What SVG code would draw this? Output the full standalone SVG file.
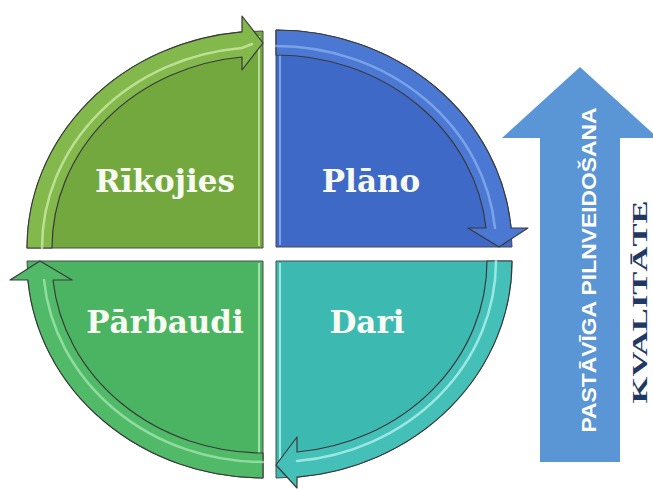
<svg xmlns="http://www.w3.org/2000/svg" width="653" height="489" viewBox="0 0 653 489">
  <style>
    .pie { stroke: #4a4a4a; stroke-width: 1; }
    .band { stroke: #3a3a3a; stroke-width: 1.2; stroke-linejoin: round; }
    .hl { fill: none; stroke-width: 2.5; stroke-linecap: round; opacity: 0.75; }
    .edge { fill: none; stroke-width: 2; opacity: 0.8; }
    .lbl { font-family: "DejaVu Serif", "Liberation Serif", serif; font-weight: bold; font-size: 31px; fill: #f8fbf2; text-anchor: middle; }
    .ark { font-family: "Liberation Sans", Arial, sans-serif; font-weight: bold; font-size: 21px; fill: #ffffff; text-anchor: middle; }
    .kv { font-family: "Liberation Serif", "DejaVu Serif", serif; font-weight: bold; font-size: 22px; fill: #1f3864; text-anchor: middle; }
  </style>
  <rect width="653" height="489" fill="#ffffff"/>

  <g id="rikojies">
    <path class="pie" d="M263,248 L27,248 A236,217 0 0 1 263,31 Z" fill="#72a83e"/>
    <line class="edge" x1="259" y1="36" x2="259" y2="246" stroke="#c9e6a4"/>
    <text class="lbl" x="165" y="192">Rīkojies</text>
  </g>

  <g id="plano">
    <path class="pie" d="M276,247 L276,30 A236,217 0 0 1 512,247 Z" fill="#3f69c7"/>
    <line class="edge" x1="280" y1="34" x2="280" y2="245" stroke="#8fb2ee"/>
    <text class="lbl" x="371" y="192">Plāno</text>
  </g>

  <g id="dari">
    <path class="pie" d="M276,261 L512,261 A236,217 0 0 1 276,478 Z" fill="#3cbab2"/>
    <line class="edge" x1="280" y1="263" x2="280" y2="468" stroke="#b4f4ef"/>
    <text class="lbl" x="367" y="333">Dari</text>
  </g>

  <g id="parbaudi">
    <path class="pie" d="M263,261 L263,478 A236,217 0 0 1 27,261 Z" fill="#4ab462"/>
    <line class="edge" x1="259" y1="263" x2="259" y2="476" stroke="#b6ecbf"/>
    <text class="lbl" x="165" y="333">Pārbaudi</text>
  </g>

  <g id="connectors">
    <path class="band" d="M27,248 A236,217 0 0 1 242,31.9 L242,16 L263,43 L242,70 L242,57 A211,192 0 0 0 52,248 Z" fill="#82b84c"/>
    <path class="hl" d="M42,248 A220,201 0 0 1 242,47.9 L252,44" stroke="#d2ecac"/>

    <path class="band" d="M276,30 A236,217 0 0 1 511.1,228 L528,228 L499,247 L468,228 L486,228 A211,192 0 0 0 276,55 Z" fill="#4a78d3"/>
    <path class="hl" d="M276,46 A220,201 0 0 1 495,228" stroke="#8cb0f0"/>

    <path class="band" d="M512,261 A236,217 0 0 1 297,477.1 L297,488 L276,465 L297,437 L297,452 A211,192 0 0 0 487,261 Z" fill="#44c0b8"/>
    <path class="hl" d="M496,261 A220,201 0 0 1 297,461" stroke="#b8f6f1"/>

    <path class="band" d="M263,478 A236,217 0 0 1 27.9,280 L10,280 L40,261 L72,280 L53,280 A211,192 0 0 0 263,453 Z" fill="#51ba68"/>
    <path class="hl" d="M263,462 A220,201 0 0 1 44,280" stroke="#a8e6b4"/>
  </g>

  <g id="kvalitate-arrow">
    <polygon points="540,462 540,138 502,138 580,67 658,138 620,138 620,462" fill="#5a95d5"/>
    <text class="ark" transform="translate(596,270) rotate(-90)" textLength="325" lengthAdjust="spacingAndGlyphs">PASTĀVĪGA PILNVEIDOŠANA</text>
  </g>

  <g id="kvalitate">
    <text class="kv" transform="translate(647,302) rotate(-90)" textLength="203" lengthAdjust="spacingAndGlyphs">KVALITĀTE</text>
  </g>
</svg>
